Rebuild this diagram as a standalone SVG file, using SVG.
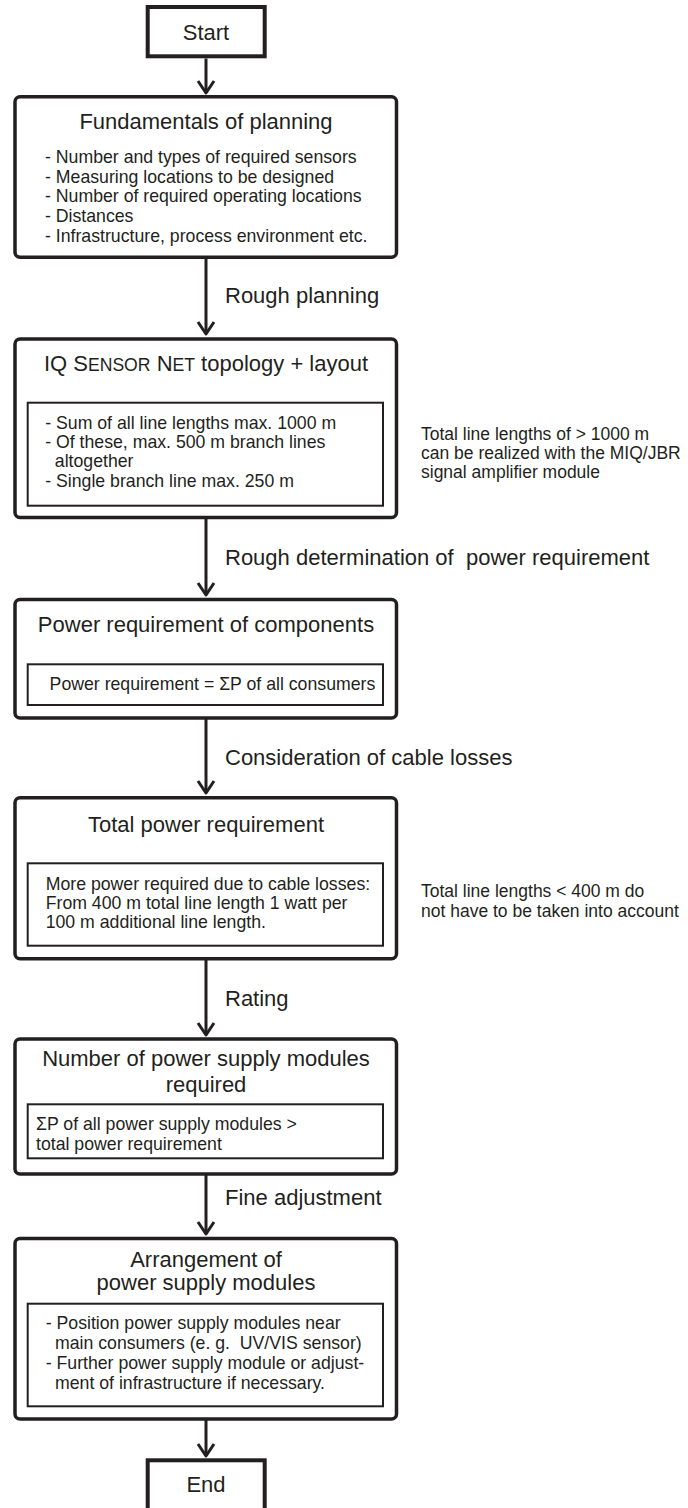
<svg xmlns="http://www.w3.org/2000/svg" width="688" height="1508" viewBox="0 0 688 1508">
<defs>
<style>
text{font-family:"Liberation Sans",Arial,Helvetica,sans-serif;fill:#231f20}
.title{font-size:22px;text-anchor:middle}
.lbl{font-size:22px}
.body{font-size:17.7px}
.side{font-size:17.5px}
.sc{font-size:17.6px}
.pre{white-space:pre}
.term{fill:#fff;stroke:#231f20;stroke-width:4}
.outer{fill:#fff;stroke:#231f20;stroke-width:3.5}
.inner{fill:none;stroke:#231f20;stroke-width:2}
.conn{fill:none;stroke:#231f20;stroke-width:3}
</style>
<marker id="arr" markerUnits="userSpaceOnUse" markerWidth="20" markerHeight="20" viewBox="-14 -10 16 20" refX="0" refY="0" orient="auto" overflow="visible">
<path d="M-12,-8 L0,0 L-12,8" fill="none" stroke="#231f20" stroke-width="3" stroke-linejoin="round"/>
</marker>
</defs>
<rect width="688" height="1508" fill="#fff"/>

<g id="connectors">
<path class="conn" d="M206,58.5 V93" marker-end="url(#arr)"/>
<path class="conn" d="M206,259 V334" marker-end="url(#arr)"/>
<path class="conn" d="M206,519 V595" marker-end="url(#arr)"/>
<path class="conn" d="M206,719 V793" marker-end="url(#arr)"/>
<path class="conn" d="M206,960 V1035" marker-end="url(#arr)"/>
<path class="conn" d="M206,1159 V1234" marker-end="url(#arr)"/>
<path class="conn" d="M206,1420 V1456" marker-end="url(#arr)"/>
<text class="lbl" x="225" y="302.5">Rough planning</text>
<text class="lbl pre" x="225" y="564.5" xml:space="preserve">Rough determination of  power requirement</text>
<text class="lbl" x="225" y="765">Consideration of cable losses</text>
<text class="lbl" x="225" y="1006">Rating</text>
<text class="lbl" x="225" y="1205">Fine adjustment</text>
</g>

<g id="start">
<rect class="term" x="147.7" y="7" width="117" height="49.3"/>
<text class="title" x="206" y="40">Start</text>
</g>

<g id="fundamentals">
<rect class="outer" x="15" y="96.8" width="381.5" height="160.4" rx="5"/>
<text class="title" x="206" y="129">Fundamentals of planning</text>
<text class="body" x="45" y="163.3">- Number and types of required sensors</text>
<text class="body" x="45" y="182.7">- Measuring locations to be designed</text>
<text class="body" x="45" y="202.3">- Number of required operating locations</text>
<text class="body" x="45" y="221.7">- Distances</text>
<text class="body" x="45" y="241.7">- Infrastructure, process environment etc.</text>
</g>

<g id="topology">
<rect class="outer" x="15" y="339" width="381.5" height="178.5" rx="5"/>
<text class="title" x="206" y="371">IQ S<tspan class="sc">ENSOR</tspan> N<tspan class="sc">ET</tspan> topology + layout</text>
<rect class="inner" x="27.7" y="402.7" width="355.3" height="103"/>
<text class="body" x="45.2" y="429">- Sum of all line lengths max. 1000 m</text>
<text class="body" x="45.2" y="448.3">- Of these, max. 500 m branch lines</text>
<text class="body" x="54.8" y="467.3">altogether</text>
<text class="body" x="45.2" y="486.7">- Single branch line max. 250 m</text>
</g>

<g id="note-amplifier">
<text class="side" x="421" y="440">Total line lengths of &gt; 1000 m</text>
<text class="side" x="421" y="459.3">can be realized with the MIQ/JBR</text>
<text class="side" x="421" y="478.3">signal amplifier module</text>
</g>

<g id="power-components">
<rect class="outer" x="15" y="599.5" width="381.5" height="118.5" rx="5"/>
<text class="title" x="206" y="631.7">Power requirement of components</text>
<rect class="inner" x="27.7" y="664.3" width="355.3" height="40.7"/>
<text class="body" x="49.6" y="690">Power requirement = ΣP of all consumers</text>
</g>

<g id="total-power">
<rect class="outer" x="15" y="797.8" width="381.5" height="161" rx="5"/>
<text class="title" x="206" y="831.7">Total power requirement</text>
<rect class="inner" x="27.7" y="863.3" width="355.3" height="82.4"/>
<text class="body" x="45.7" y="890">More power required due to cable losses:</text>
<text class="body" x="45.7" y="909">From 400 m total line length 1 watt per</text>
<text class="body" x="45.7" y="928.3">100 m additional line length.</text>
</g>

<g id="note-cable">
<text class="side" x="421" y="897.3">Total line lengths &lt; 400 m do</text>
<text class="side" x="421" y="916.7">not have to be taken into account</text>
</g>

<g id="number-modules">
<rect class="outer" x="15" y="1039" width="381.5" height="135" rx="5"/>
<text class="title" x="206" y="1066">Number of power supply modules</text>
<text class="title" x="206" y="1091.5">required</text>
<rect class="inner" x="27.7" y="1104.3" width="355.3" height="54"/>
<text class="body" x="36" y="1129.5">ΣP of all power supply modules &gt;</text>
<text class="body" x="36" y="1150.3">total power requirement</text>
</g>

<g id="arrangement">
<rect class="outer" x="15" y="1238.5" width="381.5" height="180.5" rx="5"/>
<text class="title" x="206" y="1266.7">Arrangement of</text>
<text class="title" x="206" y="1290">power supply modules</text>
<rect class="inner" x="27.7" y="1303.7" width="355.3" height="102.6"/>
<text class="body" x="45.7" y="1329.3">- Position power supply modules near</text>
<text class="body pre" x="55" y="1348.7" xml:space="preserve">main consumers (e. g.  UV/VIS sensor)</text>
<text class="body" x="45.7" y="1368.7">- Further power supply module or adjust-</text>
<text class="body" x="55" y="1388.7">ment of infrastructure if necessary.</text>
</g>

<g id="end">
<rect class="term" x="147.7" y="1460.3" width="117" height="50"/>
<text class="title" x="206" y="1491.7">End</text>
</g>
</svg>
